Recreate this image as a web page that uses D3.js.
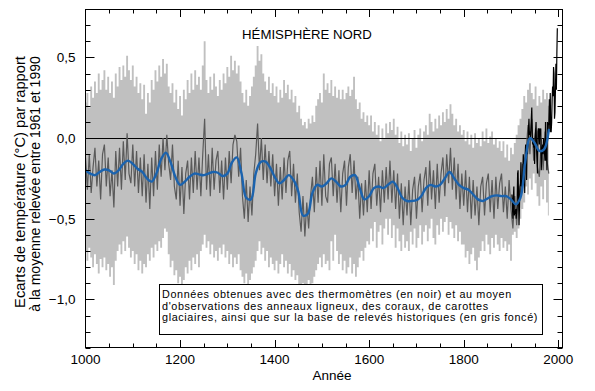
<!DOCTYPE html>
<html><head><meta charset="utf-8">
<script src="https://cdn.jsdelivr.net/npm/d3@7"></script>
<style>body{margin:0;background:#fff}svg{display:block}</style>
</head><body>
<svg id="c" width="595" height="391"></svg>
<script>
// ---------- DATA ----------
const title = "HÉMISPHÈRE NORD";
const xLabel = "Année";
const yLabelLines = ["Ecarts de température (°C) par rapport", "à la moyenne relevée entre 1961 et 1990"];
const noteLines = [
  "Données obtenues avec des thermomètres (en noir) et au moyen",
  "d'observations des anneaux ligneux, des coraux, de carottes",
  "glaciaires, ainsi que sur la base de relevés historiques (en gris foncé)"
];
const xTickValues = [1000, 1200, 1400, 1600, 1800, 2000];
const yTickValues = [0.5, 0.0, -0.5, -1.0];
const yTickLabels = ["0,5", "0,0", "\u22120,5", "\u22121,0"];

// proxy reconstruction (dark grey), sampled every 4 years from 1000 to 1980
const proxyStart = 1000, proxyStep = 4;
const reconstruction = [
 -0.12,-0.32,-0.10,-0.34,-0.18,-0.06,-0.30,-0.14,-0.38,-0.10,
 -0.04,-0.30,-0.12,-0.36,-0.20,-0.43,-0.08,-0.30,-0.06,-0.32,
 -0.02,-0.26,0.03,-0.22,-0.28,-0.04,-0.30,-0.08,-0.34,-0.12,
 -0.36,-0.10,-0.40,-0.16,-0.44,-0.12,-0.36,-0.08,-0.32,-0.04,
 -0.24,0.00,-0.20,0.02,-0.16,-0.26,-0.04,-0.30,-0.38,-0.14,
 -0.42,-0.18,-0.47,-0.22,-0.14,-0.38,-0.12,-0.34,-0.08,-0.32,
 -0.12,-0.36,-0.10,0.12,-0.32,-0.10,-0.36,-0.06,-0.32,-0.14,
 -0.08,-0.34,-0.14,-0.38,-0.12,-0.32,-0.08,-0.28,-0.04,0.02,
 -0.02,-0.24,-0.06,-0.36,-0.50,-0.26,-0.52,-0.30,-0.48,-0.22,
 -0.10,0.09,-0.20,0.00,-0.26,-0.04,-0.28,-0.08,-0.30,-0.10,
 -0.36,-0.16,-0.42,-0.18,-0.38,-0.12,-0.34,-0.14,-0.08,-0.36,
 -0.16,-0.40,-0.22,-0.46,-0.58,-0.36,-0.61,-0.40,-0.56,-0.36,
 -0.24,-0.46,-0.18,-0.40,-0.14,-0.42,-0.10,-0.36,-0.40,-0.16,
 -0.12,-0.36,-0.16,-0.40,-0.20,-0.46,-0.22,-0.14,-0.42,-0.18,
 -0.10,-0.34,-0.14,-0.38,-0.24,-0.50,-0.28,-0.48,-0.26,-0.46,
 -0.20,-0.44,-0.22,-0.16,-0.42,-0.24,-0.46,-0.20,-0.40,-0.18,
 -0.38,-0.14,-0.40,-0.20,-0.44,-0.22,-0.50,-0.28,-0.54,-0.30,
 -0.48,-0.26,-0.54,-0.32,-0.24,-0.50,-0.30,-0.22,-0.46,-0.26,
 -0.18,-0.42,-0.14,-0.38,-0.20,-0.44,-0.16,-0.40,-0.22,-0.12,
 -0.36,-0.10,-0.28,-0.06,-0.32,-0.12,-0.38,-0.16,-0.44,-0.22,
 -0.42,-0.20,-0.46,-0.24,-0.50,-0.26,-0.48,-0.30,-0.54,-0.30,
 -0.24,-0.48,-0.28,-0.22,-0.46,-0.26,-0.50,-0.24,-0.44,-0.28,
 -0.22,-0.46,-0.30,-0.50,-0.26,-0.44,-0.56,-0.36,-0.54,-0.30,
 -0.36,-0.16,-0.20,-0.08,0.08,-0.10,0.12,-0.14,0.06,-0.18,
 -0.24,0.00,-0.20,0.04,-0.14,-0.22
];
// upper and lower edges of the uncertainty range (light grey), same sampling
const upperBound = [
 0.22,0.28,0.19,0.32,0.25,0.35,0.28,0.40,0.30,0.36,
 0.42,0.30,0.38,0.28,0.35,0.25,0.40,0.32,0.44,0.36,
 0.45,0.38,0.51,0.42,0.36,0.45,0.32,0.38,0.28,0.34,
 0.24,0.33,0.15,0.28,0.22,0.36,0.30,0.42,0.35,0.45,
 0.38,0.49,0.40,0.46,0.32,0.28,0.34,0.22,0.30,0.18,
 0.26,0.14,0.30,0.24,0.36,0.28,0.40,0.30,0.42,0.33,
 0.38,0.30,0.45,0.60,0.36,0.28,0.38,0.30,0.40,0.32,
 0.26,0.36,0.30,0.40,0.34,0.44,0.38,0.51,0.42,0.48,
 0.40,0.45,0.35,0.28,0.22,0.30,0.20,0.26,0.32,0.38,
 0.45,0.57,0.48,0.52,0.40,0.35,0.30,0.38,0.28,0.34,
 0.26,0.32,0.22,0.30,0.25,0.36,0.28,0.33,0.24,0.30,
 0.22,0.26,0.16,0.20,0.12,0.08,0.10,0.06,0.12,0.09,
 0.14,0.10,0.20,0.24,0.28,0.22,0.40,0.30,0.34,0.28,
 0.36,0.26,0.32,0.25,0.30,0.24,0.30,0.24,0.28,0.32,
 0.26,0.30,0.38,0.24,0.18,0.22,0.12,0.16,0.10,0.14,
 0.08,0.14,0.04,0.10,0.02,0.08,-0.02,0.06,0.00,0.09,
 0.03,0.10,0.05,0.12,0.02,0.07,-0.03,0.04,-0.05,0.02,
 -0.04,0.03,-0.08,0.00,0.05,-0.06,0.02,0.06,-0.02,0.04,
 0.08,0.02,0.15,0.10,0.04,0.12,0.06,0.14,0.08,0.16,
 0.10,0.18,0.12,0.21,0.15,0.08,0.12,0.04,0.08,0.02,
 0.05,-0.02,0.04,-0.04,0.02,-0.06,0.03,-0.03,0.00,-0.05,
 0.04,-0.02,0.06,-0.03,0.01,0.04,-0.04,0.00,-0.06,-0.02,
 -0.08,-0.02,-0.12,-0.04,-0.14,-0.06,-0.10,-0.03,0.02,0.08,
 0.12,0.18,0.26,0.22,0.30,0.34,0.28,0.24,0.32,0.20,
 0.26,0.22,0.30,0.24,0.28,0.20
];
const lowerBound = [
 -0.70,-0.76,-0.68,-0.74,-0.80,-0.72,-0.78,-0.84,-0.75,-0.80,
 -0.74,-0.82,-0.78,-0.86,-0.80,-0.91,-0.76,-0.70,-0.66,-0.72,
 -0.64,-0.70,-0.61,-0.68,-0.74,-0.70,-0.78,-0.72,-0.82,-0.76,
 -0.84,-0.78,-0.80,-0.72,-0.76,-0.68,-0.74,-0.66,-0.70,-0.64,
 -0.68,-0.62,-0.56,-0.58,-0.72,-0.80,-0.76,-0.85,-0.82,-0.90,
 -0.86,-0.93,-0.88,-0.80,-0.84,-0.76,-0.82,-0.74,-0.78,-0.72,
 -0.80,-0.70,-0.66,-0.60,-0.68,-0.64,-0.72,-0.66,-0.74,-0.70,
 -0.76,-0.68,-0.72,-0.66,-0.74,-0.70,-0.78,-0.72,-0.80,-0.74,
 -0.78,-0.72,-0.82,-0.86,-0.90,-0.84,-0.92,-0.88,-0.84,-0.80,
 -0.76,-0.70,-0.64,-0.72,-0.68,-0.76,-0.70,-0.80,-0.74,-0.78,
 -0.82,-0.76,-0.84,-0.78,-0.72,-0.80,-0.76,-0.84,-0.78,-0.86,
 -0.82,-0.88,-0.85,-0.92,-0.95,-0.90,-0.96,-0.92,-0.88,-0.94,
 -0.90,-0.86,-0.82,-0.78,-0.74,-0.80,-0.72,-0.78,-0.76,-0.82,
 -0.64,-0.76,-0.60,-0.70,-0.78,-0.72,-0.82,-0.76,-0.84,-0.80,
 -0.74,-0.84,-0.78,-0.86,-0.80,-0.74,-0.70,-0.76,-0.68,-0.64,
 -0.66,-0.56,-0.64,-0.52,-0.68,-0.58,-0.54,-0.66,-0.56,-0.50,
 -0.60,-0.50,-0.62,-0.54,-0.68,-0.56,-0.64,-0.70,-0.60,-0.68,
 -0.64,-0.70,-0.58,-0.66,-0.56,-0.68,-0.62,-0.54,-0.66,-0.58,
 -0.54,-0.64,-0.56,-0.50,-0.62,-0.66,-0.54,-0.60,-0.50,-0.58,
 -0.52,-0.49,-0.60,-0.52,-0.56,-0.62,-0.54,-0.64,-0.58,-0.66,
 -0.66,-0.74,-0.70,-0.78,-0.72,-0.68,-0.76,-0.82,-0.74,-0.70,
 -0.64,-0.70,-0.60,-0.66,-0.72,-0.62,-0.68,-0.60,-0.66,-0.70,
 -0.62,-0.68,-0.64,-0.70,-0.66,-0.76,-0.60,-0.58,-0.62,-0.56,
 -0.50,-0.44,-0.40,-0.30,-0.35,-0.25,-0.32,-0.22,-0.28,-0.36,
 -0.42,-0.30,-0.38,-0.26,-0.40,-0.48
];
// 40-year smoothed reconstruction (blue), every 10 years 1000-1980
const smoothStart = 1000, smoothStep = 10;
const smoothed = [
 -0.20,-0.22,-0.23,-0.21,-0.195,-0.20,-0.22,-0.20,-0.16,-0.14,
 -0.16,-0.19,-0.21,-0.25,-0.27,-0.22,-0.13,-0.09,-0.15,-0.24,
 -0.29,-0.27,-0.24,-0.22,-0.225,-0.23,-0.22,-0.21,-0.215,-0.235,
 -0.22,-0.15,-0.12,-0.22,-0.37,-0.38,-0.22,-0.15,-0.145,-0.18,
 -0.24,-0.28,-0.26,-0.23,-0.26,-0.33,-0.48,-0.47,-0.34,-0.29,
 -0.30,-0.28,-0.25,-0.27,-0.30,-0.29,-0.24,-0.23,-0.31,-0.38,
 -0.36,-0.31,-0.30,-0.31,-0.29,-0.27,-0.31,-0.37,-0.39,-0.39,
 -0.385,-0.36,-0.31,-0.29,-0.30,-0.29,-0.25,-0.21,-0.25,-0.29,
 -0.31,-0.32,-0.35,-0.38,-0.39,-0.375,-0.36,-0.355,-0.36,-0.36,
 -0.38,-0.41,-0.37,-0.15,0.00,-0.03,-0.08,-0.07,0.05
];
// instrumental record (thermometers, black), annual 1902-1998
const instrStart = 1902;
const instrumental = [
 -0.35,-0.42,-0.50,-0.38,-0.30,-0.48,-0.45,-0.47,-0.44,-0.50,
 -0.46,-0.42,-0.22,-0.20,-0.38,-0.54,-0.42,-0.30,-0.28,-0.15,
 -0.30,-0.26,-0.32,-0.20,-0.10,-0.16,-0.14,-0.34,-0.10,-0.04,
 -0.08,-0.26,-0.06,-0.10,-0.04,0.06,0.12,0.02,0.04,0.00,
 0.05,0.12,0.19,0.02,-0.04,0.00,-0.06,-0.05,-0.16,0.00,
 0.04,0.10,-0.06,-0.12,-0.22,0.04,0.06,0.04,-0.04,0.06,
 0.04,0.06,-0.20,-0.12,-0.06,-0.04,-0.10,0.00,-0.04,-0.10,
 -0.14,0.10,-0.14,-0.04,-0.20,0.10,0.00,0.08,0.10,0.24,
 0.04,0.28,0.04,0.04,0.10,0.24,0.32,0.26,0.44,0.40,
 0.12,0.16,0.30,0.46,0.30,0.52,0.68
];

// ---------- DRAW ----------
const FONT = "'Liberation Sans', Arial, Helvetica, sans-serif";
const svg = d3.select("#c");
const L = 85.5, R = 562.5, T = 9.5, B = 347.5;
const x = d3.scaleLinear([1000, 2010], [L, 563]);
const y = d3.scaleLinear([-1.3, 0.8], [347.8, 9]);

const proxyPts = reconstruction.map((v, i) => ({yr: proxyStart + i * proxyStep, v, hi: upperBound[i], lo: lowerBound[i]}));

svg.append("clipPath").attr("id", "clip").append("rect")
  .attr("x", L).attr("y", T).attr("width", R - L).attr("height", B - T);
const inner = svg.append("g").attr("clip-path", "url(#clip)");

inner.append("path").datum(proxyPts)
  .attr("d", d3.area().curve(d3.curveStep).x(d => x(d.yr)).y0(d => y(d.lo)).y1(d => y(d.hi)))
  .attr("fill", "#c0c0c0");

inner.append("line").attr("x1", L).attr("x2", R)
  .attr("y1", Math.round(y(0)) + 0.5).attr("y2", Math.round(y(0)) + 0.5)
  .attr("stroke", "#000").attr("stroke-width", 1);

inner.append("path").datum(proxyPts)
  .attr("d", d3.line().x(d => x(d.yr)).y(d => y(d.v)))
  .attr("fill", "none").attr("stroke", "#5a5a5a").attr("stroke-width", 1.2);

inner.append("path").datum(instrumental.map((v, i) => ({yr: instrStart + i, v})))
  .attr("d", d3.line().x(d => x(d.yr)).y(d => y(d.v)))
  .attr("fill", "none").attr("stroke", "#000").attr("stroke-width", 1.2);

inner.append("path").datum(smoothed.map((v, i) => ({yr: smoothStart + i * smoothStep, v})))
  .attr("d", d3.line().curve(d3.curveCatmullRom.alpha(0.5)).x(d => x(d.yr)).y(d => y(d.v)))
  .attr("fill", "none").attr("stroke", "#1b63ae").attr("stroke-width", 2.4)
  .attr("stroke-linejoin", "round").attr("stroke-linecap", "round");

// frame
svg.append("rect").attr("x", L).attr("y", T).attr("width", R - L).attr("height", B - T)
  .attr("fill", "none").attr("stroke", "#000").attr("stroke-width", 1);

// ticks (inward, on all four sides)
const ticks = svg.append("g").attr("stroke", "#000").attr("stroke-width", 1);
d3.range(-13, 9).forEach(k => {
  const v = k / 10, major = (k % 5 === 0);
  const yy = Math.round(y(v)) + 0.5, len = major ? 9 : 5;
  ticks.append("line").attr("x1", L).attr("x2", L + len).attr("y1", yy).attr("y2", yy);
  ticks.append("line").attr("x1", R).attr("x2", R - len).attr("y1", yy).attr("y2", yy);
});
d3.range(1050, 2001, 50).forEach(yr => {
  const major = (yr % 200 === 0);
  const xx = Math.round(x(yr)) + 0.5, len = major ? 7.5 : 4;
  ticks.append("line").attr("x1", xx).attr("x2", xx).attr("y1", B).attr("y2", B - len);
  ticks.append("line").attr("x1", xx).attr("x2", xx).attr("y1", T).attr("y2", T + len);
});

// tick labels
svg.append("g").selectAll("text").data(xTickValues).join("text")
  .attr("x", d => x(d)).attr("y", 363.5).attr("text-anchor", "middle")
  .attr("font-family", FONT).attr("font-size", 13.5).attr("fill", "#000").text(d => d);
svg.append("g").selectAll("text").data(yTickValues).join("text")
  .attr("x", 75.5).attr("y", d => y(d)).attr("dy", "0.36em").attr("text-anchor", "end")
  .attr("font-family", FONT).attr("font-size", 13.5).attr("fill", "#000")
  .text((d, i) => yTickLabels[i]);

// axis titles
svg.append("text").attr("x", 332).attr("y", 380).attr("text-anchor", "middle")
  .attr("font-family", FONT).attr("font-size", 13.5).text(xLabel);

const yLab = [[25, 182, 252], [39.5, 184, 256]];
yLabelLines.forEach((t, i) => {
  const el = svg.append("text")
    .attr("transform", `translate(${yLab[i][0]},${yLab[i][1]}) rotate(-90)`)
    .attr("text-anchor", "middle").attr("font-family", FONT).attr("font-size", 13).text(t);
  const w = el.node().getComputedTextLength();
  el.attr("font-size", 13 * yLab[i][2] / w);
});

// title
const tt = svg.append("text").attr("x", 307).attr("y", 38.5).attr("text-anchor", "middle")
  .attr("font-family", FONT).attr("font-size", 13).text(title);
{
  const w = tt.node().getComputedTextLength();
  tt.attr("font-size", 13 * 130 / w);
}

// note box
svg.append("rect").attr("x", 159.5).attr("y", 284.5).attr("width", 383).attr("height", 50)
  .attr("fill", "#fff").attr("stroke", "#000").attr("stroke-width", 1);
const noteFs = 10.8;
const noteT = noteLines.map((t, i) => svg.append("text").attr("x", 162).attr("y", 298 + i * 11.5)
  .attr("font-family", FONT).attr("font-size", noteFs).text(t));
{
  const w = noteT[2].node().getComputedTextLength();
  const ls = Math.max(0, (376 - w) / noteLines[2].length);
  noteT.forEach(t => t.attr("letter-spacing", ls));
}
</script>
</body></html>
